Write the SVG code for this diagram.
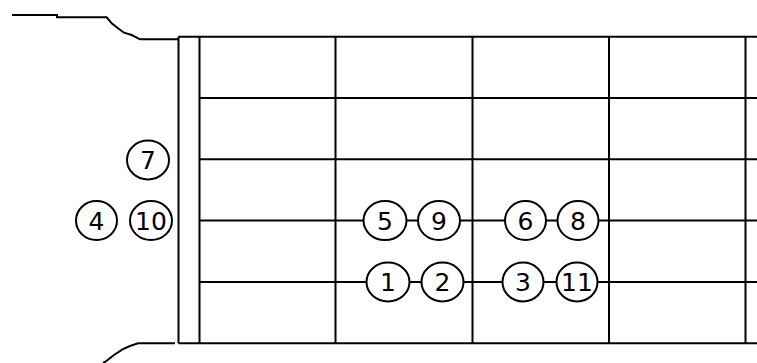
<svg xmlns="http://www.w3.org/2000/svg" width="757" height="363" viewBox="0 0 757 363">
<style>
.ln{stroke:#000;stroke-width:2;fill:none}
.nd ellipse{fill:#fff;stroke:#000;stroke-width:2}
.nd text{font-family:"DejaVu Sans","Liberation Sans",sans-serif;font-size:25px;fill:#000;text-anchor:middle}
</style>
<rect width="757" height="363" fill="#fff"/>
<g id="connectors">
  <!-- headstock outline -->
  <polyline class="ln" points="12,15 57,15 57,17.3 106.7,17.3 111.7,23.3 116.7,27.3 124,32.7 131.7,35 140,39.3 178,39.3"/>
  <polyline class="ln" points="175,343.3 138,343.3 130,346 122.5,349.3 114,355 105,362 103,363"/>
  <!-- strings -->
  <line class="ln" x1="178.5" y1="36.7" x2="757" y2="36.7"/>
  <line class="ln" x1="199.5" y1="98" x2="757" y2="98"/>
  <line class="ln" x1="199.5" y1="159.3" x2="757" y2="159.3"/>
  <line class="ln" x1="199.5" y1="220.6" x2="757" y2="220.6"/>
  <line class="ln" x1="199.5" y1="282" x2="757" y2="282"/>
  <line class="ln" x1="178.5" y1="343.3" x2="757" y2="343.3"/>
  <!-- nut and frets -->
  <line class="ln" x1="178.5" y1="36.7" x2="178.5" y2="343.3"/>
  <line class="ln" x1="199.5" y1="36.7" x2="199.5" y2="343.3"/>
  <line class="ln" x1="335.5" y1="36.7" x2="335.5" y2="343.3"/>
  <line class="ln" x1="472.5" y1="36.7" x2="472.5" y2="343.3"/>
  <line class="ln" x1="609" y1="36.7" x2="609" y2="343.3"/>
  <line class="ln" x1="745.5" y1="36.7" x2="745.5" y2="343.3"/>
</g>
<g id="n7" class="nd"><ellipse cx="148" cy="160" rx="21" ry="19.5"/><text x="148" y="169">7</text></g>
<g id="n4" class="nd"><ellipse cx="96.5" cy="220.6" rx="20.5" ry="19.5"/><text x="96.5" y="229.6">4</text></g>
<g id="n10" class="nd"><ellipse cx="151" cy="220.6" rx="21" ry="19.5"/><text x="151" y="229.6">10</text></g>
<g id="n5" class="nd"><ellipse cx="385" cy="220.6" rx="21.5" ry="19.5"/><text x="385" y="229.6">5</text></g>
<g id="n9" class="nd"><ellipse cx="439" cy="220.6" rx="21" ry="19.5"/><text x="439" y="229.6">9</text></g>
<g id="n6" class="nd"><ellipse cx="525.5" cy="220.6" rx="20.5" ry="19.5"/><text x="525.5" y="229.6">6</text></g>
<g id="n8" class="nd"><ellipse cx="578" cy="220.6" rx="20.5" ry="19.5"/><text x="578" y="229.6">8</text></g>
<g id="n1" class="nd"><ellipse cx="388" cy="282" rx="21.5" ry="19.5"/><text x="388" y="291">1</text></g>
<g id="n2" class="nd"><ellipse cx="442.5" cy="282" rx="21" ry="19.5"/><text x="442.5" y="291">2</text></g>
<g id="n3" class="nd"><ellipse cx="523" cy="282" rx="20.5" ry="19.5"/><text x="523" y="291">3</text></g>
<g id="n11" class="nd"><ellipse cx="577" cy="282" rx="20.5" ry="19.5"/><text x="577" y="291">11</text></g>
</svg>
